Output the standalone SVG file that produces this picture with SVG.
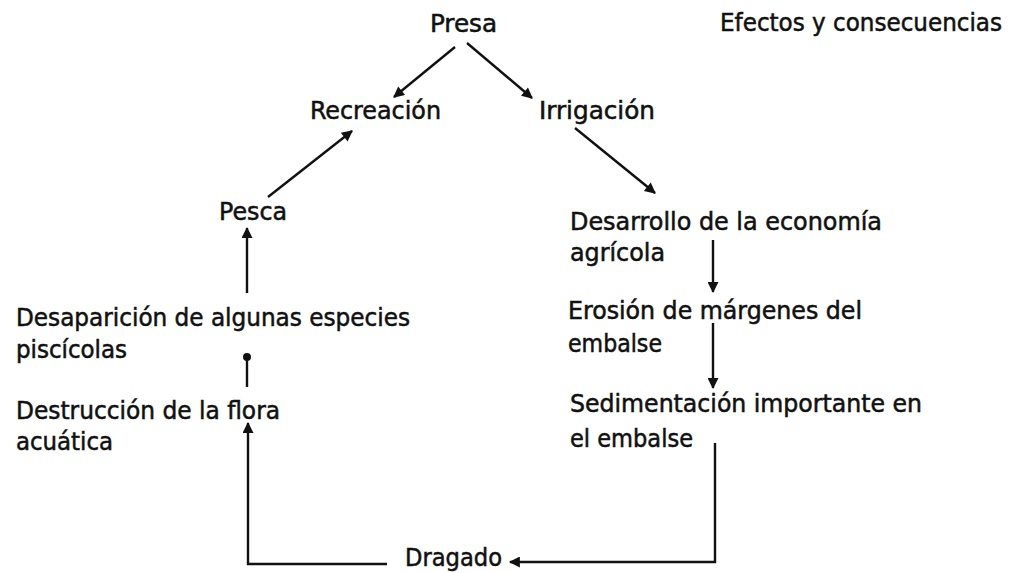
<svg xmlns="http://www.w3.org/2000/svg" width="1016" height="573" viewBox="0 0 1016 573">
<style>
text{font-family:"DejaVu Sans Condensed","DejaVu Sans",sans-serif;font-size:25px;fill:#111;stroke:#111;stroke-width:0.5}
.c{fill:none;stroke:#111;stroke-width:2.4}
</style>
<defs>
<marker id="ah" viewBox="0 0 10 10" refX="9" refY="5" markerWidth="13" markerHeight="11" markerUnits="userSpaceOnUse" orient="auto"><path d="M0,0L10,5L0,10z" fill="#111"/></marker>
<marker id="dot" viewBox="0 0 10 10" refX="5" refY="5" markerWidth="8" markerHeight="8" markerUnits="userSpaceOnUse"><circle cx="5" cy="5" r="5" fill="#111"/></marker>
</defs>
<rect width="1016" height="573" fill="#fff"/>
<g id="presa"><text x="430" y="32" textLength="67" lengthAdjust="spacingAndGlyphs">Presa</text></g>
<g id="titulo"><text x="720" y="31" textLength="282" lengthAdjust="spacingAndGlyphs">Efectos y consecuencias</text></g>
<g id="recreacion"><text x="310" y="119" textLength="131" lengthAdjust="spacingAndGlyphs">Recreación</text></g>
<g id="irrigacion"><text x="539" y="119" textLength="116" lengthAdjust="spacingAndGlyphs">Irrigación</text></g>
<g id="pesca"><text x="219" y="220" textLength="68" lengthAdjust="spacingAndGlyphs">Pesca</text></g>
<g id="desarrollo"><text x="570" y="230" textLength="312" lengthAdjust="spacingAndGlyphs">Desarrollo de la economía</text><text x="570" y="261" textLength="95" lengthAdjust="spacingAndGlyphs">agrícola</text></g>
<g id="erosion"><text x="568" y="319" textLength="294" lengthAdjust="spacingAndGlyphs">Erosión de márgenes del</text><text x="568" y="352" textLength="94" lengthAdjust="spacingAndGlyphs">embalse</text></g>
<g id="desaparicion"><text x="16" y="326" textLength="394" lengthAdjust="spacingAndGlyphs">Desaparición de algunas especies</text><text x="16" y="358" textLength="111" lengthAdjust="spacingAndGlyphs">piscícolas</text></g>
<g id="sedimentacion"><text x="570" y="412" textLength="352" lengthAdjust="spacingAndGlyphs">Sedimentación importante en</text><text x="570" y="447" textLength="123" lengthAdjust="spacingAndGlyphs">el embalse</text></g>
<g id="destruccion"><text x="16" y="419" textLength="264" lengthAdjust="spacingAndGlyphs">Destrucción de la flora</text><text x="16" y="450" textLength="97" lengthAdjust="spacingAndGlyphs">acuática</text></g>
<g id="dragado"><text x="405" y="566" textLength="97" lengthAdjust="spacingAndGlyphs">Dragado</text></g>
<g id="connectors">
<path class="c" d="M455,47L394,97" marker-end="url(#ah)"/>
<path class="c" d="M467,43L532,98" marker-end="url(#ah)"/>
<path class="c" d="M268,197L352,131" marker-end="url(#ah)"/>
<path class="c" d="M575,128L655,193" marker-end="url(#ah)"/>
<path class="c" d="M713,240L713,292" marker-end="url(#ah)"/>
<path class="c" d="M713,323L713,388" stroke-width="3" marker-end="url(#ah)"/>
<path class="c" d="M715,443L715,562L510,562" marker-end="url(#ah)"/>
<path class="c" d="M387,564L248,564L248,423" marker-end="url(#ah)"/>
<path class="c" d="M247,387L247,357" marker-end="url(#dot)"/>
<path class="c" d="M247,293L247,228" marker-end="url(#ah)"/>
</g>
</svg>
